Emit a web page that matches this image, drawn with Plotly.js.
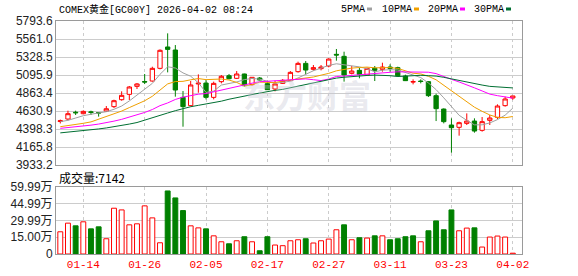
<!DOCTYPE html>
<html>
<head>
<meta charset="utf-8">
<script src="https://cdn.plot.ly/plotly-3.0.1.min.js"></script>
<style>
html,body{margin:0;padding:0;background:#fff;}
#chart{width:578px;height:276px;}
</style>
</head>
<body>
<div id="chart"></div>
<script>
// ---- data ----
const dates = ["01-09","01-12","01-13","01-14","01-15","01-16","01-19","01-20","01-21","01-22",
  "01-23","01-26","01-27","01-28","01-29","01-30","02-02","02-03","02-04","02-05",
  "02-06","02-09","02-10","02-11","02-12","02-13","02-16","02-17","02-18","02-19",
  "02-20","02-23","02-24","02-25","02-26","02-27","03-02","03-03","03-04","03-05",
  "03-06","03-09","03-10","03-11","03-12","03-13","03-16","03-17","03-18","03-19",
  "03-20","03-23","03-24","03-25","03-26","03-27","03-30","03-31","04-01","04-02"];

const openP = [4495,4527,4615,4596,4620,4610,4630,4687,4777,4846,
  4949,5012,5018,5182,5458,5419,4807,4700,4980,4992,
  4807,5010,5087,5053,5109,4971,5057,4984,4915,4988,
  5023,5139,5246,5169,5178,5212,5363,5337,5117,5156,
  5096,5182,5169,5199,5191,5083,5005,5018,5010,4829,
  4656,4450,4420,4471,4501,4381,4510,4549,4700,4799];
const highP = [4520,4635,4635,4639,4635,4615,4695,4777,4885,4954,
  4992,5109,5203,5427,5634,5483,4889,5018,5104,5031,
  5010,5096,5109,5147,5113,5070,5070,5023,5023,5044,
  5147,5268,5277,5225,5225,5311,5432,5397,5212,5191,
  5191,5212,5255,5234,5203,5100,5040,5040,5018,4855,
  4665,4536,4493,4600,4536,4553,4579,4717,4816,4825];
const lowP = [4470,4510,4579,4588,4580,4558,4618,4669,4764,4773,
  4915,4979,5010,5169,5130,4816,4428,4691,4867,4781,
  4781,4988,5040,5044,4949,4958,5027,4902,4885,4980,
  5018,5126,5104,5152,5156,5195,5281,5010,5104,5053,
  5087,5018,5139,5139,5070,5018,4975,4988,4812,4501,
  4471,4092,4312,4450,4351,4364,4450,4527,4687,4777];
const closeP = [4505,4596,4608,4626,4612,4605,4660,4764,4833,4941,
  4980,5005,5182,5415,5427,4902,4687,4967,4990,4807,
  4988,5079,5048,5109,4958,5066,5031,4906,4980,5027,
  5130,5246,5160,5191,5199,5302,5354,5096,5147,5104,
  5182,5156,5199,5182,5087,5023,5010,5012,4829,4661,
  4493,4415,4480,4501,4372,4493,4540,4695,4786,4825];

const ma5 = [4493,4510,4540,4570,4589,4609,4622,4653,4695,4761,
  4836,4905,4988,5105,5202,5186,5123,5080,4995,4871,
  4888,4966,4982,5006,5036,5052,5042,5014,4988,5002,
  5015,5058,5109,5151,5185,5220,5241,5228,5220,5201,
  5177,5137,5158,5165,5161,5129,5100,5063,4993,4907,
  4801,4682,4576,4510,4452,4452,4477,4520,4577,4668];
const ma10 = [4428,4440,4455,4472,4490,4525,4555,4590,4630,4675,
  4722,4763,4821,4900,4981,5011,5014,5034,5050,5036,
  5037,5044,5031,5000,4954,4970,5004,4998,4997,5019,
  5033,5050,5061,5070,5094,5117,5150,5169,5185,5193,
  5198,5189,5193,5192,5181,5153,5119,5110,5079,5034,
  4965,4891,4819,4751,4680,4627,4580,4548,4544,4560];
const ma20 = [4407,4415,4425,4436,4448,4462,4478,4500,4523,4550,
  4580,4612,4650,4700,4735,4780,4810,4830,4848,4856,
  4880,4904,4926,4950,4967,4990,5009,5016,5023,5028,
  5035,5047,5046,5035,5024,5044,5077,5083,5091,5106,
  5116,5120,5127,5131,5137,5135,5134,5139,5132,5114,
  5082,5040,5006,4972,4930,4890,4849,4829,4811,4797];
const ma30 = [4348,4357,4366,4376,4387,4399,4412,4427,4444,4462,
  4482,4515,4545,4575,4605,4635,4665,4686,4704,4720,
  4740,4758,4783,4800,4823,4843,4863,4883,4898,4910,
  4931,4953,4971,4990,5009,5033,5056,5067,5077,5083,
  5090,5095,5095,5087,5076,5080,5091,5092,5087,5082,
  5066,5044,5025,5004,4985,4966,4949,4942,4936,4929];

const volume = [198000,275000,251000,287000,224000,242000,136000,408000,393000,260000,
  269000,429000,322000,100000,562000,500000,387000,251000,233000,224000,
  162000,109000,91000,118000,154000,109000,29000,154000,80000,74000,
  118000,127000,136000,98000,118000,133000,216000,260000,127000,145000,
  142000,162000,162000,127000,136000,154000,162000,109000,207000,295000,
  216000,393000,207000,231000,233000,62000,151000,160000,151000,7142];
// 1 = red (up) volume bar, 0 = green (down)
const volUp = [1,1,0,1,0,0,1,1,1,1, 1,1,1,1,0,0,0,1,1,0,
  1,1,0,1,0,1,0,0,1,1, 1,1,0,1,1,1,1,0,1,0,
  1,0,1,0,0,0,0,1,0,0, 0,0,1,1,0,1,1,1,1,1];

const tickDates = ["01-14","01-26","02-05","02-17","02-27","03-11","03-23","04-02"];
const priceTicks = [3933.2,4165.8,4398.3,4630.9,4863.4,5095.9,5328.5,5561.0,5793.6];
const volTicks = [0,149975,299950,449925,599900];
const volTickText = ["0","15.00万","29.99万","44.99万","59.99万"];
const maNames = ["5PMA","10PMA","20PMA","30PMA"];
const maColors = ["#a0a0a0","#f0a000","#ff00ff","#006f32"];
const titleText = "COMEX黄金[GC00Y] 2026-04-02 08:24";
const volLabel = "成交量:7142";

// ---- figure ----
const RED = "#ff0000", GREEN = "#008000";
const xr = [-0.56, 60.2];
const traces = [];
traces.push({
  type:"candlestick", x:dates, open:openP, high:highP, low:lowP, close:closeP,
  xaxis:"x", yaxis:"y", whiskerwidth:0, showlegend:false, hoverinfo:"skip",
  increasing:{line:{color:RED,width:1}, fillcolor:"#ffffff"},
  decreasing:{line:{color:GREEN,width:1}, fillcolor:GREEN}
});
[ma5,ma10,ma20,ma30].forEach((m,k)=>{
  traces.push({type:"scatter", mode:"lines", x:dates, y:m, xaxis:"x", yaxis:"y",
    name:maNames[k], line:{color:maColors[k], width:1}, showlegend:false, hoverinfo:"skip"});
});
traces.push({
  type:"bar", x:dates, y:volume, xaxis:"x2", yaxis:"y2", width:0.64, showlegend:false, hoverinfo:"skip",
  marker:{color:volUp.map(u=>u?"#ffffff":GREEN),
          line:{color:volUp.map(u=>u?RED:GREEN), width:1}}
});

const H = 276, mt = 21, mb = 22, ph = H - mt - mb;
const py = v => (H - mb - v) / ph;       // pixel y -> paper y
const px = v => (v - 56) / 466;          // pixel x -> paper x

const axisCommon = {type:"category", range:xr, tickvals:tickDates, showgrid:true,
  gridcolor:"#cccccc", griddash:"3px,3px", gridwidth:1, showline:true, mirror:true,
  linecolor:"#9a9a9a", linewidth:1, ticks:"", zeroline:false, fixedrange:true};

const annFont = {family:"Liberation Mono, 'Noto Sans CJK SC', monospace", size:10, color:"#000"};
const annotations = [
  {xref:"paper", yref:"paper", x:px(57), y:py(9), xanchor:"left", yanchor:"middle",
   text:titleText, showarrow:false, font:annFont},
  {xref:"paper", yref:"paper", x:px(57), y:py(177), xanchor:"left", yanchor:"middle",
   text:volLabel, showarrow:false, font:{family:"'Noto Sans CJK SC', Liberation Sans", size:12, color:"#000"}},
  {xref:"paper", yref:"paper", x:px(307), y:py(94), xanchor:"center", yanchor:"middle",
   text:"<b>东方财富</b>", showarrow:false,
   font:{family:"'Noto Sans CJK SC'", size:32, color:"rgba(200,200,214,0.4)"}}
];
const legX = [339, 380, 426, 472];
const legMark = [367, 414, 460, 506];
const shapes = [];
maNames.forEach((n,k)=>{
  annotations.push({xref:"paper", yref:"paper", x:px(legX[k]), y:py(9), xanchor:"left", yanchor:"middle",
    text:n, showarrow:false, font:annFont});
  shapes.push({type:"line", xref:"paper", yref:"paper", x0:px(legMark[k]), x1:px(legMark[k]+5),
    y0:py(9), y1:py(9), line:{color:maColors[k], width:3}});
});

const layout = {
  width:578, height:H, margin:{l:56, r:56, t:mt, b:mb, pad:0},
  paper_bgcolor:"#ffffff", plot_bgcolor:"#ffffff", showlegend:false,
  xaxis: Object.assign({}, axisCommon, {anchor:"y", showticklabels:false, rangeslider:{visible:false}}),
  xaxis2: Object.assign({}, axisCommon, {anchor:"y2", showticklabels:true,
    tickfont:{family:"Liberation Mono, monospace", size:11, color:"#ff0000"}}),
  yaxis: {domain:[py(165), 1], range:[priceTicks[0], priceTicks[priceTicks.length-1]],
    tickvals:priceTicks, ticktext:priceTicks.map(v=>v.toFixed(1)), showgrid:true, gridcolor:"#cccccc",
    showline:true, mirror:true, linecolor:"#9a9a9a", linewidth:1, ticks:"", zeroline:false,
    tickfont:{family:"Liberation Sans, Arial, sans-serif", size:12, color:"#222"}, fixedrange:true},
  yaxis2: {domain:[0, py(186.7)], range:[0, volTicks[volTicks.length-1]],
    tickvals:volTicks, ticktext:volTickText, showgrid:true, gridcolor:"#cccccc",
    showline:true, mirror:true, linecolor:"#9a9a9a", linewidth:1, ticks:"", zeroline:false,
    tickfont:{family:"Liberation Sans, 'Noto Sans CJK SC', sans-serif", size:12, color:"#222"}, fixedrange:true},
  annotations: annotations,
  shapes: shapes,
  boxgap:0.2
};

Plotly.newPlot("chart", traces, layout, {staticPlot:true, displayModeBar:false});
</script>
</body>
</html>
